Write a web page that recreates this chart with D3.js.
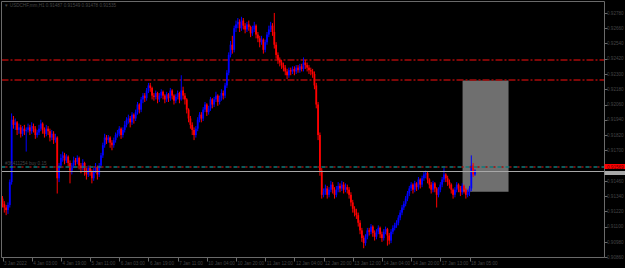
<!DOCTYPE html>
<html>
<head>
<meta charset="utf-8">
<script src="https://cdn.jsdelivr.net/npm/d3@7"></script>
<style>
  html, body { margin: 0; padding: 0; background: #000; }
  svg { display: block; font-family: "Liberation Sans", Arial, sans-serif; }
</style>
</head>
<body>
<div id="chart"></div>
<script>
// USDCHF H1 candles, prices in pips (x 0.0001)
const firstOpen = 9132;
const closes = [
  9128,9125,9123,9127,9145,9194,9190,9192,9186,9188,
  9183,9187,9185,9186,9188,9185,9189,9187,9182,9184,
  9187,9191,9186,9183,9187,9185,9180,9183,9178,9180,
  9148,9158,9164,9166,9162,9165,9160,9154,9158,9162,
  9161,9164,9158,9156,9160,9154,9151,9156,9153,9148,
  9154,9157,9151,9158,9166,9174,9180,9178,9180,9176,
  9174,9178,9182,9183,9187,9182,9186,9190,9194,9195,
  9192,9198,9195,9200,9206,9202,9210,9213,9211,9217,
  9221,9219,9213,9212,9215,9210,9213,9216,9213,9210,
  9214,9211,9217,9213,9209,9212,9215,9210,9217,9213,
  9210,9202,9195,9190,9186,9182,9187,9194,9198,9195,
  9202,9206,9200,9203,9210,9206,9210,9213,9208,9211,
  9215,9213,9221,9231,9245,9253,9249,9266,9269,9271,
  9266,9272,9268,9265,9269,9267,9262,9265,9268,9261,
  9258,9255,9257,9249,9255,9261,9265,9268,9263,9253,
  9245,9241,9239,9237,9235,9232,9229,9233,9232,9234,
  9232,9235,9233,9236,9234,9239,9237,9235,9233,9232,
  9230,9221,9206,9182,9154,9135,9137,9140,9135,9139,
  9143,9139,9135,9139,9142,9140,9143,9139,9141,9139,
  9135,9129,9124,9121,9119,9113,9107,9101,9097,9102,
  9107,9106,9110,9105,9102,9106,9109,9104,9101,9106,
  9108,9103,9099,9106,9109,9111,9113,9117,9121,9125,
  9128,9132,9136,9140,9143,9139,9144,9141,9147,9143,
  9148,9151,9152,9147,9143,9139,9144,9140,9135,9139,
  9143,9147,9151,9148,9145,9143,9139,9135,9139,9143,
  9140,9137,9142,9139,9135,9137,9140,9158,9151,9154
];
const highs = [
  9134,9130,9127,9129,9147,9199,9197,9195,9193,9191,
  9190,9189,9190,9188,9191,9190,9192,9191,9189,9186,
  9190,9194,9192,9188,9190,9189,9187,9186,9185,9183,
  9181,9160,9167,9169,9168,9167,9166,9162,9160,9165,
  9164,9166,9165,9160,9163,9161,9156,9158,9158,9155,
  9156,9160,9158,9160,9168,9176,9183,9182,9182,9181,
  9178,9180,9184,9186,9189,9188,9188,9193,9196,9198,
  9197,9200,9199,9202,9208,9207,9212,9215,9215,9219,
  9223,9223,9220,9215,9217,9216,9215,9218,9217,9214,
  9216,9215,9219,9218,9214,9214,9217,9216,9229,9220,
  9215,9211,9203,9197,9192,9188,9189,9196,9200,9200,
  9204,9208,9207,9205,9212,9211,9212,9216,9214,9213,
  9218,9217,9223,9233,9247,9256,9260,9268,9272,9274,
  9273,9275,9274,9270,9271,9272,9268,9268,9271,9269,
  9263,9260,9260,9258,9257,9263,9268,9271,9270,9278,
  9255,9247,9243,9241,9239,9237,9234,9235,9235,9236,
  9236,9237,9237,9238,9238,9243,9241,9239,9237,9235,
  9234,9232,9223,9208,9184,9156,9140,9143,9142,9141,
  9146,9145,9141,9142,9145,9144,9146,9145,9144,9143,
  9141,9137,9131,9126,9124,9121,9115,9109,9103,9104,
  9109,9109,9112,9111,9107,9108,9111,9110,9106,9108,
  9110,9109,9105,9108,9111,9113,9115,9119,9123,9127,
  9130,9134,9138,9142,9145,9144,9146,9145,9149,9148,
  9150,9153,9154,9153,9148,9145,9146,9145,9141,9141,
  9145,9149,9156,9152,9150,9147,9144,9140,9141,9145,
  9144,9142,9144,9143,9140,9139,9142,9166,9160,9155
];
const lows = [
  9125,9121,9119,9120,9125,9143,9187,9186,9182,9183,
  9180,9181,9182,9169,9184,9182,9183,9184,9179,9180,
  9182,9185,9183,9180,9181,9182,9177,9178,9175,9176,
  9136,9145,9156,9161,9159,9160,9157,9144,9151,9156,
  9158,9159,9155,9152,9154,9150,9147,9149,9150,9144,
  9146,9152,9147,9149,9156,9164,9172,9175,9176,9172,
  9170,9172,9176,9180,9181,9179,9180,9184,9188,9191,
  9188,9190,9191,9193,9198,9199,9200,9207,9208,9209,
  9215,9216,9210,9209,9210,9207,9208,9211,9210,9207,
  9208,9208,9209,9210,9206,9207,9210,9207,9209,9210,
  9206,9199,9192,9187,9182,9178,9180,9185,9192,9192,
  9193,9200,9197,9198,9201,9203,9204,9208,9205,9206,
  9209,9210,9211,9219,9229,9243,9246,9247,9263,9266,
  9263,9264,9265,9262,9263,9264,9259,9260,9263,9258,
  9255,9251,9253,9246,9247,9253,9259,9263,9260,9250,
  9242,9238,9236,9234,9232,9229,9226,9227,9229,9230,
  9229,9230,9231,9231,9232,9232,9234,9232,9230,9229,
  9227,9218,9203,9178,9150,9132,9133,9135,9132,9133,
  9137,9136,9132,9133,9137,9137,9138,9136,9137,9136,
  9132,9126,9121,9118,9116,9110,9104,9098,9093,9095,
  9100,9103,9104,9102,9099,9100,9104,9101,9098,9099,
  9104,9095,9096,9097,9104,9107,9109,9111,9115,9119,
  9123,9126,9130,9134,9138,9136,9137,9138,9139,9140,
  9141,9146,9148,9144,9140,9136,9137,9137,9125,9133,
  9137,9141,9145,9145,9142,9140,9136,9132,9133,9137,
  9137,9134,9135,9136,9132,9133,9134,9138,9149,9150
];

const yTicks = [0.90860, 0.90980, 0.91100, 0.91220, 0.91340, 0.91460, 0.91580, 0.91700,
  0.91820, 0.91940, 0.92060, 0.92180, 0.92300, 0.92420, 0.92540, 0.92660, 0.92780];
const xTickBars = [0, 16, 32, 48, 64, 80, 96, 112, 128, 144, 160, 176, 192, 208, 224, 240, 256];
const xTickLabels = ["3 Jan 2022", "4 Jan 03:00", "4 Jan 19:00", "5 Jan 11:00", "6 Jan 03:00",
  "6 Jan 19:00", "7 Jan 11:00", "10 Jan 04:00", "10 Jan 20:00", "11 Jan 12:00", "12 Jan 04:00",
  "12 Jan 20:00", "13 Jan 12:00", "14 Jan 04:00", "14 Jan 20:00", "17 Jan 13:00", "18 Jan 05:00"];

const levelLines = [0.92410, 0.92249];
const zone = { from: 252.2, to: 277.4, top: 0.92249, bottom: 0.91374 };
const orderPrice = 0.91569;
const bidPrice = 0.91540;
const header = "\u25BC USDCHF,mm,H1  0.91487 0.91549 0.91478 0.91535";
const orderText = "#36411254 buy 0.15";

const width = 625, height = 268;
const plot = { left: 1.5, right: 604.5, top: 1.5, bottom: 257.5 };
const textColor = "#454545";
const fontSize = 4.6;

const bars = closes.map((c, i) => ({
  i,
  open: (i ? closes[i - 1] : firstOpen) / 1e4,
  close: c / 1e4,
  high: highs[i] / 1e4,
  low: lows[i] / 1e4
}));

const x = d3.scaleLinear().domain([0, 256]).range([2.5, 469.5]);
const y = d3.scaleLinear().domain([0.90853, 0.92874]).range([258, 1]);

const svg = d3.select("#chart").append("svg").attr("width", width).attr("height", height);
svg.append("rect").attr("width", width).attr("height", height).attr("fill", "#000");

// background zone
svg.append("rect")
  .attr("x", x(zone.from)).attr("y", y(zone.top))
  .attr("width", x(zone.to) - x(zone.from))
  .attr("height", y(zone.bottom) - y(zone.top))
  .attr("fill", "#6f6f6f");

// level lines (dash-dot)
svg.selectAll(".level").data(levelLines).join("line")
  .attr("class", "level")
  .attr("x1", plot.left).attr("x2", plot.right)
  .attr("y1", d => Math.round(y(d))).attr("y2", d => Math.round(y(d)))
  .attr("stroke", "#a80a0a").attr("stroke-width", 1.3)
  .attr("stroke-dasharray", "7,2,2,2");

// candles
const g = svg.append("g");
g.selectAll(".wick").data(bars).join("line")
  .attr("class", "wick")
  .attr("x1", d => x(d.i)).attr("x2", d => x(d.i))
  .attr("y1", d => y(d.high)).attr("y2", d => y(d.low))
  .attr("stroke", d => d.close >= d.open ? "#0000ff" : "#ff0000")
  .attr("stroke-width", 1);
g.selectAll(".body").data(bars).join("rect")
  .attr("class", "body")
  .attr("x", d => x(d.i) - 0.9)
  .attr("width", 1.8)
  .attr("y", d => y(Math.max(d.open, d.close)))
  .attr("height", d => Math.max(1, Math.abs(y(d.open) - y(d.close))))
  .attr("fill", d => d.close >= d.open ? "#0000ff" : "#ff0000");

// order line (teal / red dashes)
const oy = Math.round(y(orderPrice));
svg.append("line").attr("x1", plot.left).attr("x2", plot.right).attr("y1", oy).attr("y2", oy)
  .attr("stroke", "#0f7a7a").attr("stroke-width", 1.3).attr("stroke-dasharray", "4,4");
svg.append("line").attr("x1", plot.left + 4).attr("x2", plot.right).attr("y1", oy).attr("y2", oy)
  .attr("stroke", "#a01010").attr("stroke-width", 1.3).attr("stroke-dasharray", "2,6");
svg.append("text").attr("x", 5).attr("y", oy - 2)
  .attr("fill", textColor).attr("font-size", fontSize).text(orderText);

// bid line
const by = Math.round(y(bidPrice)) + 0.5;
svg.append("line").attr("x1", plot.left).attr("x2", plot.right).attr("y1", by).attr("y2", by)
  .attr("stroke", "#a8a8a8");

// frame
svg.append("path")
  .attr("d", `M${plot.left},${plot.top}H${plot.right}V${plot.bottom}H${plot.left}Z`)
  .attr("fill", "none").attr("stroke", "#6a6a6a");

// y axis (labels hidden where the order price label sits)
const yAxis = svg.append("g");
yAxis.selectAll("line").data(yTicks).join("line")
  .attr("x1", plot.right).attr("x2", plot.right + 3)
  .attr("y1", d => Math.round(y(d)) + 0.5).attr("y2", d => Math.round(y(d)) + 0.5)
  .attr("stroke", "#6a6a6a");
yAxis.selectAll("text").data(yTicks.filter(d => Math.abs(y(d) - oy) > 5)).join("text")
  .attr("x", 607).attr("y", d => y(d) + 1.7)
  .attr("fill", textColor).attr("font-size", fontSize)
  .text(d => d3.format(".5f")(d));

// price labels on the axis
svg.append("rect").attr("x", plot.right).attr("y", by - 0.5).attr("width", 21).attr("height", 4)
  .attr("fill", "#a8a8a8");
svg.append("rect").attr("x", plot.right).attr("y", oy - 3).attr("width", 21).attr("height", 5)
  .attr("fill", "#ff0000");
svg.append("text").attr("x", 607).attr("y", oy + 1.6)
  .attr("fill", "#600000").attr("font-size", fontSize).text(d3.format(".5f")(orderPrice));

// x axis
const xAxis = svg.append("g");
xAxis.selectAll("line").data(xTickBars).join("line")
  .attr("x1", d => Math.round(x(d)) + 0.5).attr("x2", d => Math.round(x(d)) + 0.5)
  .attr("y1", plot.bottom).attr("y2", plot.bottom + 4)
  .attr("stroke", "#6a6a6a");
xAxis.selectAll("text").data(xTickBars).join("text")
  .attr("x", d => x(d) + 1.5).attr("y", 264.5)
  .attr("fill", textColor).attr("font-size", fontSize)
  .text((d, k) => xTickLabels[k]);

// header
svg.append("text").attr("x", 4).attr("y", 7)
  .attr("fill", textColor).attr("font-size", fontSize).text(header);
</script>
</body>
</html>
